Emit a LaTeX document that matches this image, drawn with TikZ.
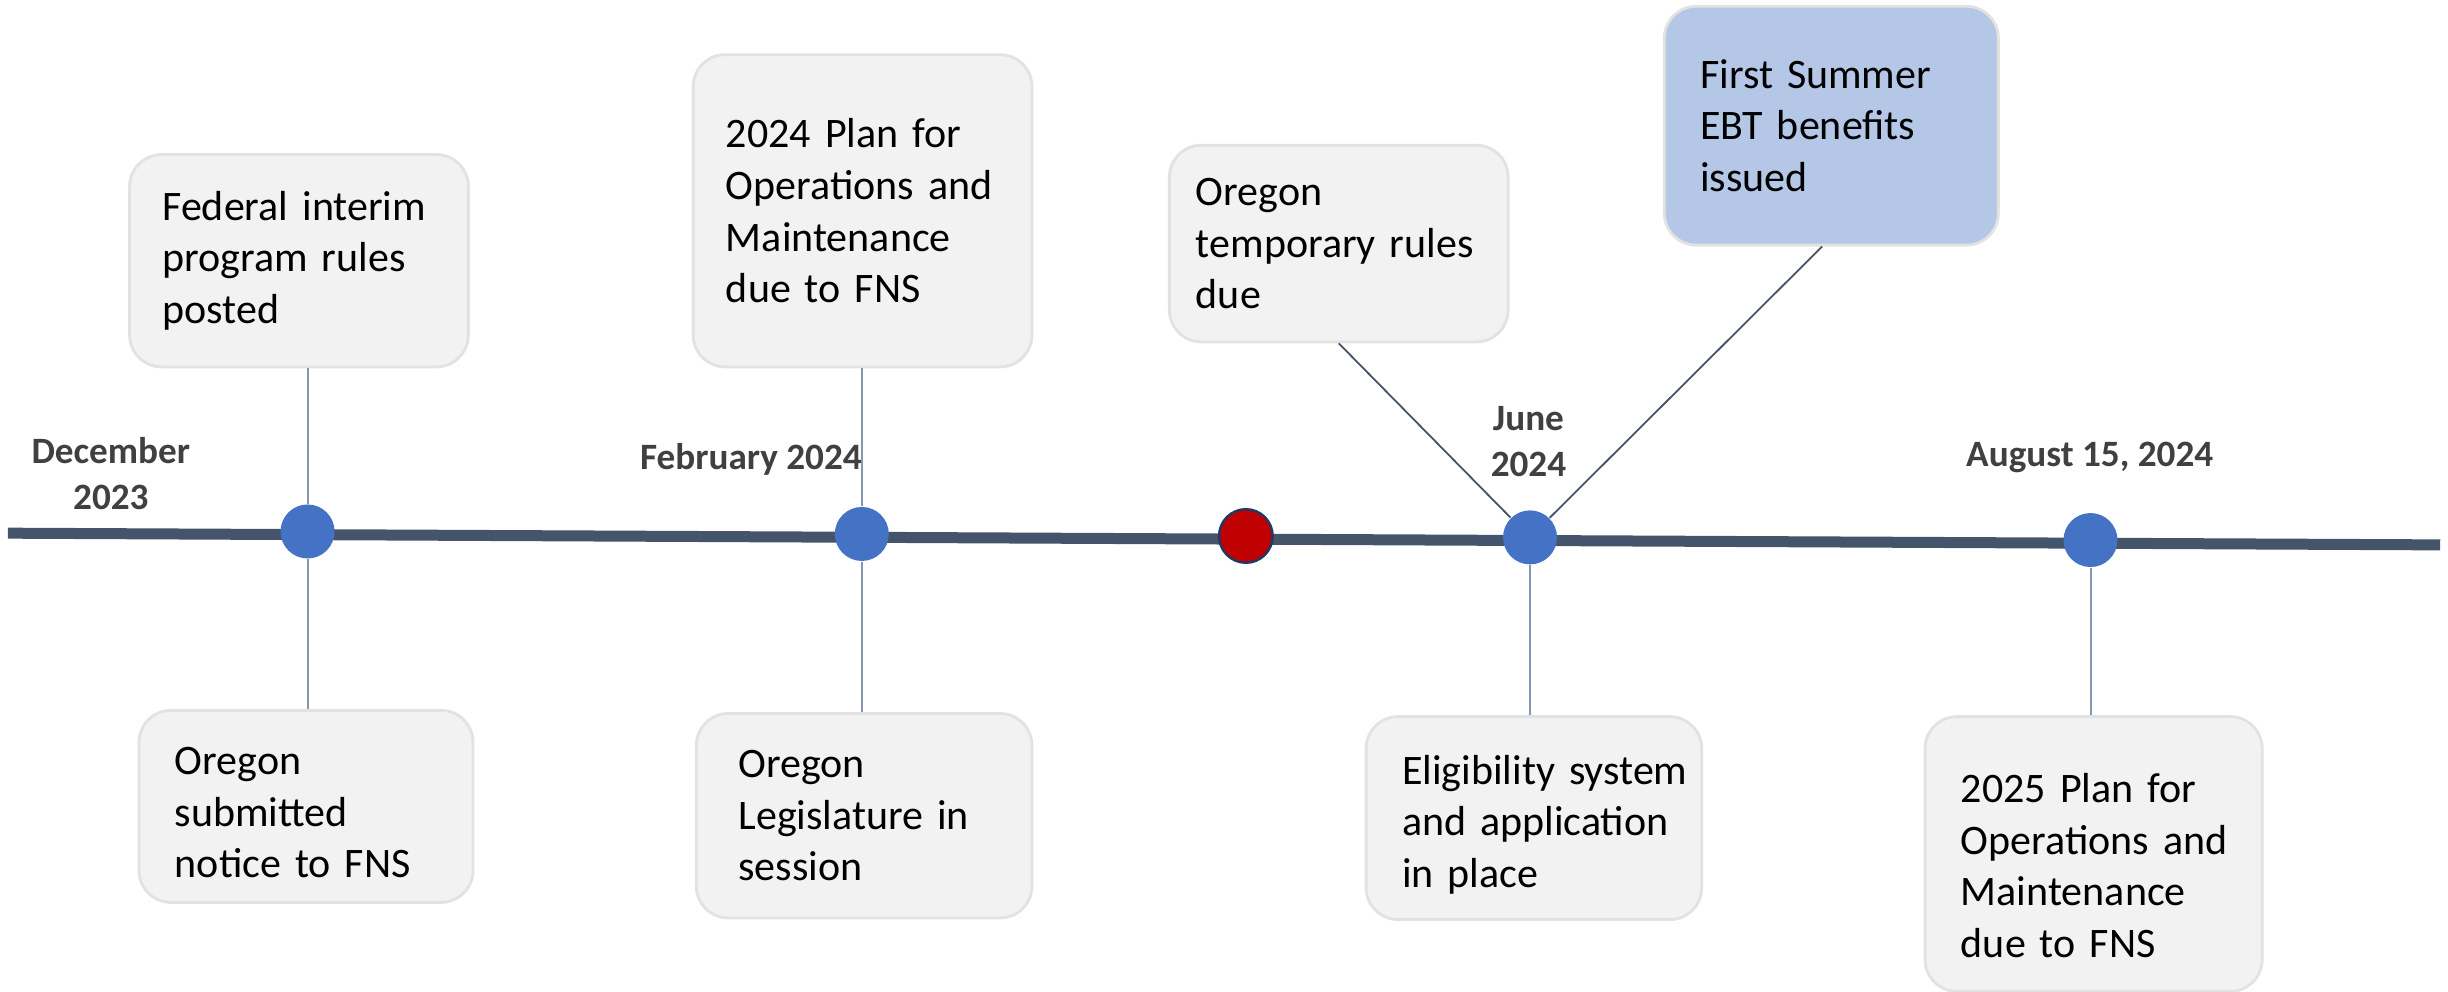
\documentclass[tikz,border=0pt]{standalone}
\usepackage{fontspec}
\setmainfont{Carlito}
\definecolor{tlcol}{HTML}{44546A}
\definecolor{dotblue}{HTML}{4472C4}
\definecolor{dotred}{HTML}{C00000}
\definecolor{rededge}{HTML}{1F3864}
\definecolor{boxfill}{HTML}{F2F2F2}
\definecolor{boxedge}{HTML}{E2E2E2}
\definecolor{bluefill}{HTML}{B4C7E7}
\definecolor{conncol}{HTML}{8497B0}
\definecolor{diagcol}{HTML}{44546A}
\definecolor{labcol}{HTML}{404040}
\newcommand\lpad[1]{\leftskip=#1\relax}
\tikzset{
  evbox/.style 2 args={draw=boxedge, line width=0.7pt, fill=boxfill, rounded corners=8pt,
    inner sep=0pt, text width=#1, minimum height=#2, align=left,
    font=\fontsize{10.5}{12.9}\selectfont, text=black},
  hlbox/.style={fill=bluefill, draw=boxedge},
  evdot/.style={circle, fill=dotblue, minimum size=13.5pt, inner sep=0pt},
  reddot/.style={circle, fill=dotred, draw=rededge, line width=0.6pt, minimum size=13.4pt, inner sep=0pt},
  datelab/.style={font=\fontsize{9.3}{11.4}\selectfont\bfseries, text=labcol, align=center, inner sep=0pt},
  conn/.style={draw=conncol, line width=0.5pt},
  diag/.style={draw=diagcol, line width=0.45pt},
  timeline/.style={draw=tlcol, line width=2.75pt}
}
\begin{document}
\begin{tikzpicture}[x=0.3903pt, y=-0.3903pt]
\useasboundingbox (0,0) rectangle (1568,635);
% timeline
\coordinate (tlL) at (5,341.5);
\coordinate (tlR) at (1563,349);
\draw[timeline] (tlL) -- (tlR);

% boxes
\node[evbox={84.70pt}{53.08pt}] (b1) at (191.5,167) {\lpad{8.2pt}Federal interim\\program rules\\posted\par};
\node[evbox={83.52pt}{48.01pt}] (b2) at (196,516.5) {\lpad{8.98pt}\rule{0pt}{10pt}Oregon\\submitted\\notice to FNS\par};
\node[evbox={84.70pt}{78.06pt}] (b3) at (552.5,135) {\lpad{8.2pt}2024 Plan for\\Operations and\\Maintenance\\due to FNS\par};
\node[evbox={83.91pt}{51.13pt}] (b4) at (553.5,522.5) {\lpad{10.54pt}Oregon\\Legislature in\\session\par};
\node[evbox={84.70pt}{49.18pt}] (b5) at (857.5,156) {\lpad{6.64pt}Oregon\\temporary rules\\due\par};
\node[evbox={83.52pt}{59.72pt}, hlbox] (b6) at (1173,80.5) {\lpad{8.98pt}First Summer\\EBT benefits\\issued\par};
\node[evbox={83.91pt}{50.74pt}] (b7) at (982.5,524) {\lpad{8.98pt}\rule{0pt}{10.5pt}Eligibility system\\and application\\in place\par};
\node[evbox={84.30pt}{68.69pt}] (b8) at (1341,547) {\lpad{8.98pt}\rule{0pt}{13pt}2025 Plan for\\Operations and\\Maintenance\\due to FNS\par};

% dots
\node[evdot] (d1) at (197,340.4) {};
\node[evdot] (d2) at (552,342) {};
\node[reddot] (dr) at (798,343.3) {};
\node[evdot] (d4) at (980,344.2) {};
\node[evdot] (d5) at (1339,345.9) {};

% date labels
\node[datelab] (lDec) at (71,303.5) {December\\2023};
\node[datelab] (lFeb) at (481,294) {February 2024};
\node[datelab] (lJun) at (979,283) {June\\2024};
\node[datelab] (lAug) at (1338.5,293) {August 15, 2024};

% connectors
\draw[conn] (d1 |- b1.south) -- (d1);
\draw[conn] (d1) -- (d1 |- b2.north);
\draw[conn] (d2 |- b3.south) -- (d2);
\draw[conn] (d2) -- (d2 |- b4.north);
\draw[diag] (b5.south) -- (d4);
\draw[diag] ([xshift=-2.3pt]b6.south) -- (d4);
\draw[conn] (d4) -- (d4 |- b7.north);
\draw[conn] (d5) -- (d5 |- b8.north);
\end{tikzpicture}
\end{document}
